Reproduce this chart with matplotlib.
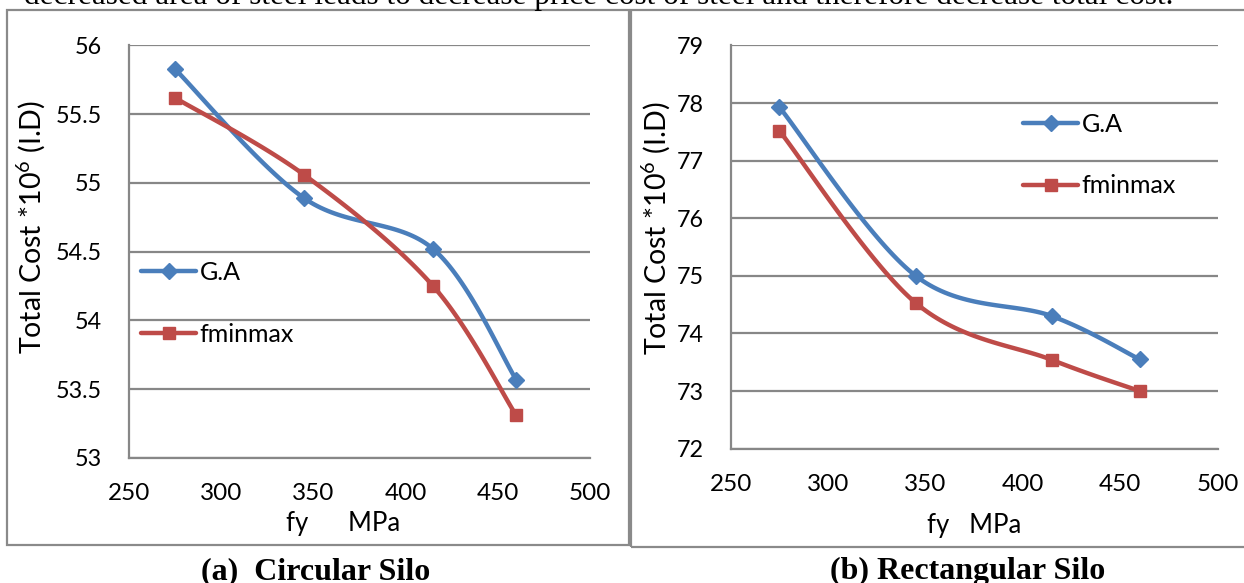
import numpy as np
import matplotlib
matplotlib.use("Agg")
import matplotlib.pyplot as plt
from matplotlib.patches import Rectangle
from matplotlib.lines import Line2D

# ---------------- data ----------------
fy = [275, 345, 415, 460]
circ_ga = [55.83, 54.89, 54.52, 53.57]
circ_fminmax = [55.62, 55.06, 54.25, 53.31]
rect_ga = [77.93, 75.00, 74.30, 73.55]
rect_fminmax = [77.52, 74.53, 73.54, 73.00]

x_ticks = [250, 300, 350, 400, 450, 500]
circ_yticks = [53, 53.5, 54, 54.5, 55, 55.5, 56]
rect_yticks = [72, 73, 74, 75, 76, 77, 78, 79]
series_names = ["G.A", "fminmax"]
captions = ["(a)  Circular Silo", "(b) Rectangular Silo"]

BLUE = "#4A7EBB"
RED = "#BE4B48"
GRID = "#878787"

plt.rcParams['font.family'] = ['Lato', 'DejaVu Sans']
plt.rcParams['mathtext.default'] = 'regular'

W, H = 1244, 583
fig = plt.figure(figsize=(W / 100, H / 100), dpi=100)


def catmull(x, y, n=40):
    pts = np.column_stack([x, y]).astype(float)
    P = np.vstack([pts[0], pts, pts[-1]])
    out = []
    for i in range(1, len(P) - 2):
        p0, p1, p2, p3 = P[i - 1], P[i], P[i + 1], P[i + 2]
        t = np.linspace(0, 1, n)[:, None]
        seg = 0.5 * ((2 * p1) + (-p0 + p2) * t + (2 * p0 - 5 * p1 + 4 * p2 - p3) * t ** 2
                     + (-p0 + 3 * p1 - 3 * p2 + p3) * t ** 3)
        out.append(seg if i == 1 else seg[1:])
    s = np.vstack(out)
    return s[:, 0], s[:, 1]


def px_rect(x0, x1, ytop, ybot):
    return [x0 / W, 1 - ybot / H, (x1 - x0) / W, (ybot - ytop) / H]


def make_panel(rect, yticks, ga, fm, ylab_xy, xlab_xy, xlabel, leg_xy):
    ax = fig.add_axes(rect)
    ax.set_xlim(x_ticks[0], x_ticks[-1])
    ax.set_ylim(yticks[0], yticks[-1])
    ax.set_xticks(x_ticks)
    ax.set_yticks(yticks)
    ax.set_yticklabels([f"{v:g}" for v in yticks])
    ax.grid(axis='y', color=GRID, lw=1.6)
    ax.set_axisbelow(True)
    for s in ['top', 'right']:
        ax.spines[s].set_visible(False)
    for s in ['left', 'bottom']:
        ax.spines[s].set_color(GRID)
        ax.spines[s].set_linewidth(1.6)
    ax.tick_params(axis='both', length=0)
    ax.tick_params(axis='y', pad=19, labelsize=16.8)
    ax.tick_params(axis='x', pad=18, labelsize=17.5)
    for vals, col, mk, ms in [(ga, BLUE, 'D', 8.5), (fm, RED, 's', 9)]:
        sx, sy = catmull(fy, vals)
        ax.plot(sx, sy, color=col, lw=3.2, solid_capstyle='round', clip_on=False)
        ax.plot(fy, vals, ls='none', marker=mk, ms=ms, color=col, clip_on=False)
    ax.set_ylabel("Total Cost *10$^{6}$ (I.D)", fontsize=20.5)
    ax.yaxis.set_label_coords(*ylab_xy)
    ax.set_xlabel(xlabel, fontsize=18.5)
    ax.xaxis.set_label_coords(*xlab_xy)
    handles = [Line2D([], [], color=BLUE, lw=3.2, marker='D', ms=8.5, solid_capstyle='round'),
               Line2D([], [], color=RED, lw=3.2, marker='s', ms=9, solid_capstyle='round')]
    ax.legend(handles, series_names, loc='center left',
              bbox_to_anchor=(leg_xy[0] / W, 1 - leg_xy[1] / H),
              bbox_transform=fig.transFigure, frameon=False, fontsize=18,
              handlelength=2.2, handletextpad=0.15, labelspacing=1.55,
              borderpad=0, borderaxespad=0)
    return ax


# left panel (circular)
make_panel(px_rect(128.6, 590, 45.4, 458), circ_yticks, circ_ga, circ_fminmax,
           (-0.177, 0.56), (0.465, -0.128), "fy      MPa", (141, 303.5))
# right panel (rectangular)
make_panel(px_rect(730.6, 1217.7, 45.4, 448.7), rect_yticks, rect_ga, rect_fminmax,
           (-0.120, 0.547), (0.4997, -0.159), "fy   MPa", (1023, 155))

# panel borders
fig.add_artist(Rectangle((7 / W, 1 - 544.5 / H), (629 - 7) / W, (544.5 - 9.5) / H,
                         transform=fig.transFigure, fill=False, ec="#8a8a8a", lw=1.6))
fig.add_artist(Rectangle((631 / W, 1 - 546.5 / H), (1260 - 631) / W, (546.5 - 9.5) / H,
                         transform=fig.transFigure, fill=False, ec="#8a8a8a", lw=1.6,
                         clip_on=False))

# captions
serif = ['Liberation Serif', 'DejaVu Serif']
fig.text(316 / W, 1 - 579 / H, captions[0], ha='center', va='baseline',
         family=serif, fontweight='bold', fontsize=23)
fig.text(968 / W, 1 - 579 / H, captions[1], ha='center', va='baseline',
         family=serif, fontweight='bold', fontsize=23)

# cut-off paragraph line at the top
fig.text(24 / W, 1 - 4 / H,
         "decreased area of steel leads to decrease price cost of steel and therefore decrease total cost.",
         ha='left', va='baseline', family=serif, fontsize=22.5)

fig.savefig("out.png", dpi=100)
